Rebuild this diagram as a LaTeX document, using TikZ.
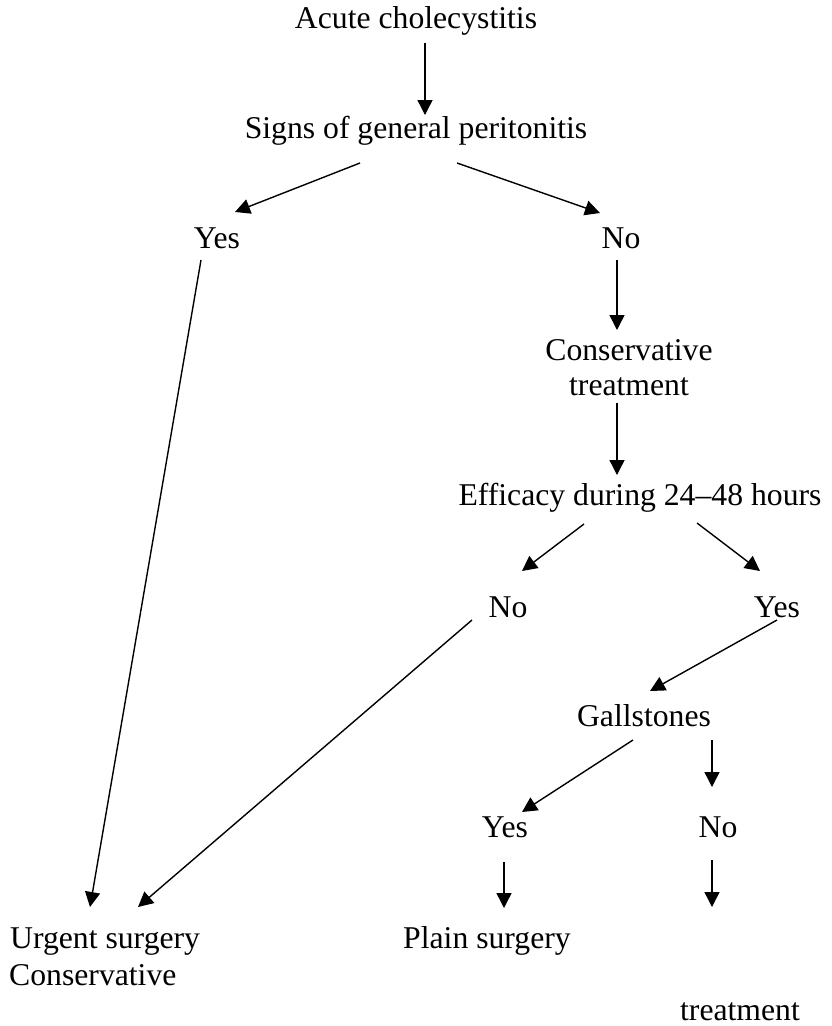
\documentclass[tikz,border=0pt]{standalone}
\usepackage{fontspec}
\setmainfont{Liberation Serif}
\usetikzlibrary{calc,arrows.meta}
\begin{document}
\begin{tikzpicture}[x=1pt,y=-1pt,
  lbl/.style={inner sep=0pt,anchor=base,font=\fontsize{31.7}{38}\selectfont},
  arr/.style={line width=1.4pt,-{Triangle[length=15pt,width=15pt]}}]
\useasboundingbox[fill=white] (0,0) rectangle (831,1026);
% nodes
\node[lbl] (ac) at (416,28) {Acute cholecystitis};
\node[lbl] (sg) at (416,138) {Signs of general peritonitis};
\node[lbl] (yes1) at (217,248) {Yes};
\node[lbl] (no1) at (621,248) {No};
\node[lbl] (ct1) at (629,360) {Conservative};
\node[lbl] (ct2) at (629,395) {treatment};
\node[lbl] (eff) at (640,505) {Efficacy during 24--48 hours};
\node[lbl] (no2) at (508,617) {No};
\node[lbl] (yes2) at (777,617) {Yes};
\node[lbl] (gall) at (644,726) {Gallstones};
\node[lbl] (yes3) at (505,837) {Yes};
\node[lbl] (no3) at (718,837) {No};
\node[lbl,anchor=base west] (urg) at (10,948) {Urgent surgery};
\node[lbl,anchor=base west] (cons) at (9,985) {Conservative};
\node[lbl] (plain) at (487,948) {Plain surgery};
\node[lbl] (treat) at (740,1020) {treatment};
\coordinate (ne) at (712,907);
% connectors
\draw[arr] ($(ac.base)+(9,15)$) -- ($(sg.base)+(9,-23)$);
\draw[arr] ($(sg.base)+(-56,25)$) -- ($(yes1.base)+(18,-36)$);
\draw[arr] ($(sg.base)+(41,25)$) -- ($(no1.base)+(-21,-35)$);
\draw[arr] ($(no1.base)+(-4,12)$) -- ($(ct1.base)+(-12,-30)$);
\draw[arr] ($(ct2.base)+(-12,8)$) -- ($(eff.base)+(-23,-30)$);
\draw[arr] ($(eff.base)+(-56,19)$) -- ($(no2.base)+(14,-46)$);
\draw[arr] ($(eff.base)+(57,18)$) -- ($(yes2.base)+(-17,-46)$);
\draw[arr] ($(yes2.base)+(0,3)$) -- ($(gall.base)+(6,-35)$);
\draw[arr] ($(gall.base)+(-11,14)$) -- ($(yes3.base)+(17,-25)$);
\draw[arr] ($(gall.base)+(68,14)$) -- ($(no3.base)+(-6,-50)$);
\draw[arr] ($(yes3.base)+(-1,25)$) -- ($(plain.base)+(17,-40)$);
\draw[arr] ($(no3.base)+(-6,23)$) -- (ne);
\draw[arr] ($(yes1.base)+(-16,12)$) -- ($(urg.base west)+(80,-41)$);
\draw[arr] ($(no2.base)+(-36,3)$) -- ($(urg.base west)+(128,-41)$);
\end{tikzpicture}
\end{document}
